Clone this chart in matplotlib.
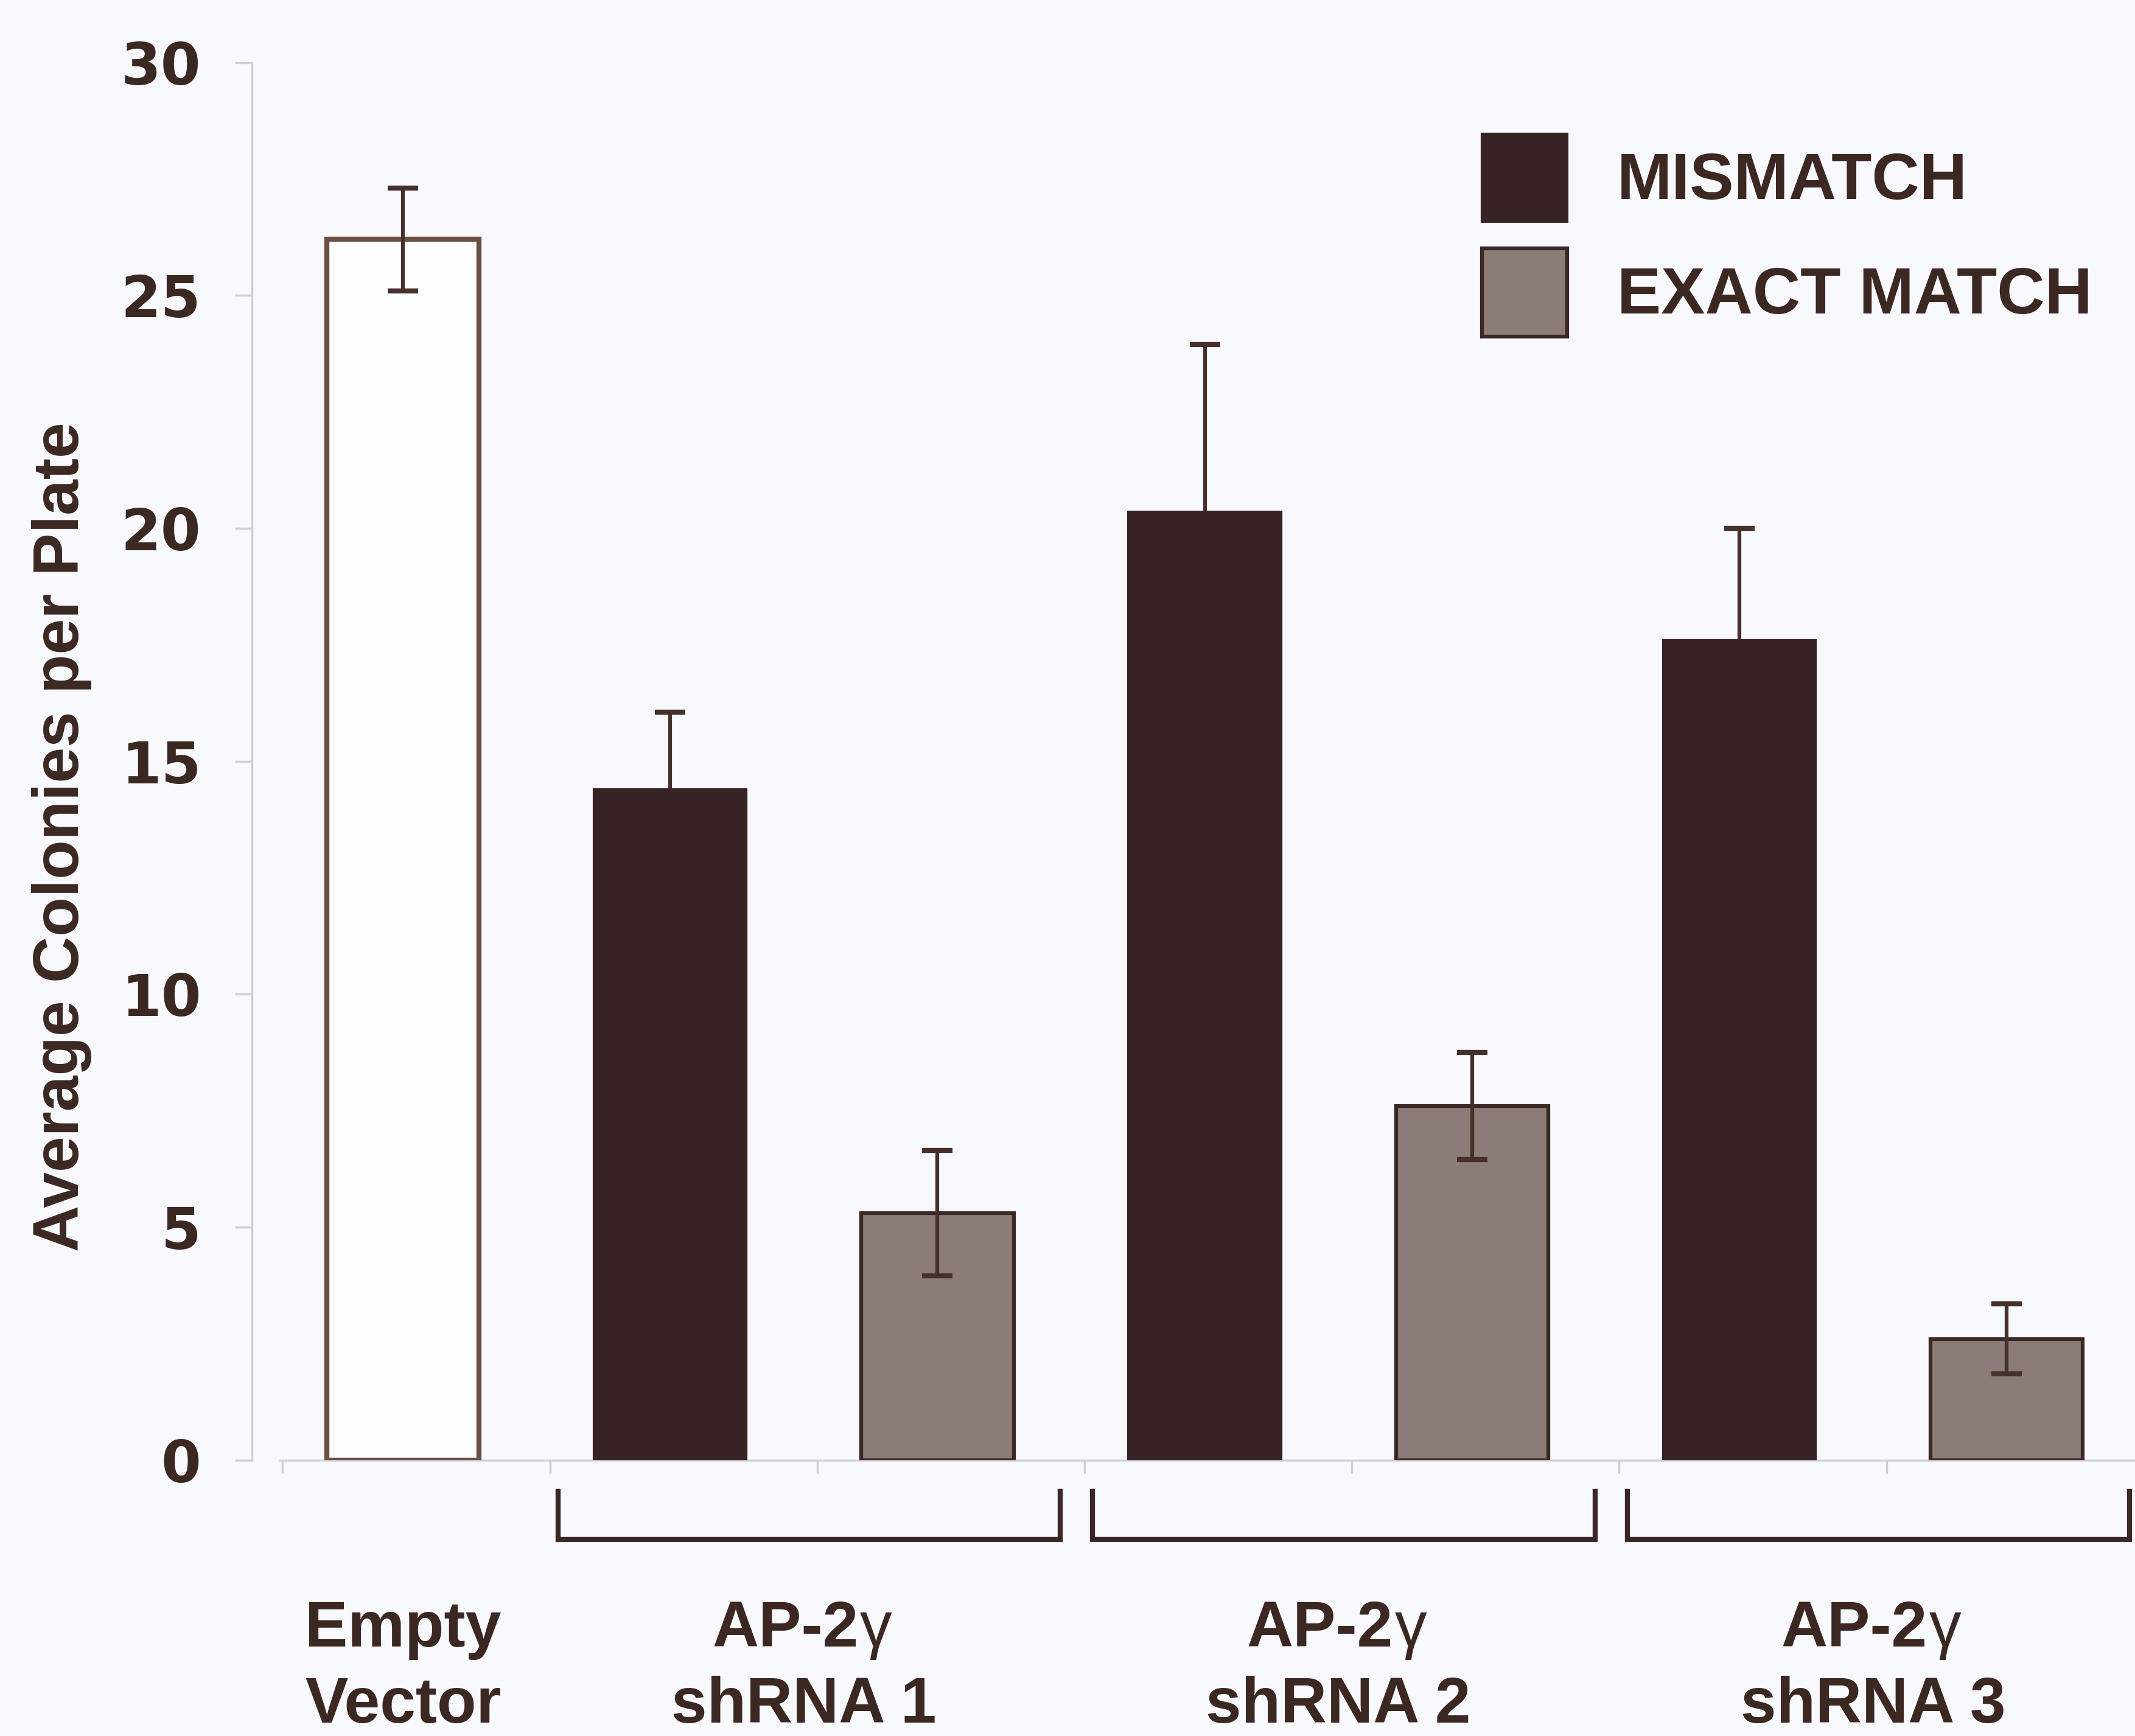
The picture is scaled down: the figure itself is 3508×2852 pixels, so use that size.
import matplotlib
matplotlib.use("Agg")
import matplotlib.pyplot as plt
import numpy as np
from matplotlib.patches import Patch

# ---- data ----
categories = ["Empty\nVector", "AP-2γ\nshRNA 1", "AP-2γ\nshRNA 2", "AP-2γ\nshRNA 3"]
empty_value = [26.2]
empty_err = [1.1]
mismatch_values = [14.4, 20.35, 17.6]
mismatch_err = [1.65, 3.6, 2.4]
exact_values = [5.3, 7.6, 2.6]
exact_err = [1.35, 1.15, 0.75]
series_labels = ["MISMATCH", "EXACT MATCH"]
yticks = [0, 5, 10, 15, 20, 25, 30]

# ---- style ----
BG = "#f8f9fc"
TXT = "#3b2823"
DARK = "#382324"
GREY = "#8b7c77"
EDGE = "#3a2824"
EMPTY_EDGE = "#6a4f43"
AXIS = "#cfcfd8"
FONT = "Liberation Sans"
FS = 76

fig = plt.figure(figsize=(35.08, 28.52), dpi=100, facecolor=BG)
ax = fig.add_axes([0.118, 0.159, 0.882, 0.805], facecolor=BG)

n_groups = len(mismatch_values)
pos_empty = np.array([0.0])
pos_mis = np.array([1 + 2 * i for i in range(n_groups)], dtype=float)
pos_exa = pos_mis + 1
w = 0.57

ax.bar(pos_empty, empty_value, width=w, color="#fbfcfe", edgecolor=EMPTY_EDGE,
       linewidth=6, zorder=3)
ax.bar(pos_mis, mismatch_values, width=w, color=DARK, edgecolor=DARK,
       linewidth=3, zorder=3)
ax.bar(pos_exa, exact_values, width=w, color=GREY, edgecolor=EDGE,
       linewidth=4.5, zorder=3)

eb_kw = dict(fmt="none", ecolor="#45302b", elinewidth=4.5, capsize=18,
             capthick=6)
ax.errorbar(pos_empty, empty_value, yerr=empty_err, zorder=4, **eb_kw)
# mismatch whiskers sit behind the bars: only the upper part shows
ax.errorbar(pos_mis, mismatch_values, yerr=mismatch_err, zorder=2, **eb_kw)
ax.errorbar(pos_exa, exact_values, yerr=exact_err, zorder=4, **eb_kw)

ax.set_xlim(-0.565, 6.48)
ax.set_ylim(0, 30)

for s in ["top", "right"]:
    ax.spines[s].set_visible(False)
ax.spines["left"].set_color(AXIS)
ax.spines["left"].set_linewidth(2.5)
ax.spines["bottom"].set_color(AXIS)
ax.spines["bottom"].set_linewidth(2.5)
ax.spines["bottom"].set_bounds(-0.46, 6.48)

ax.set_yticks(yticks)
ax.set_yticklabels([str(t) for t in yticks], fontfamily="DejaVu Sans",
                   fontweight="bold", fontsize=68, color=TXT)
ax.tick_params(axis="y", length=20, width=2.5, color=AXIS, pad=40)
xt = [i - 0.45 for i in range(7)]
ax.set_xticks(xt)
ax.set_xticklabels([""] * len(xt))
ax.tick_params(axis="x", length=16, width=2.5, color=AXIS)

# brackets
y_top, y_bot = -0.67, -1.70
for p in pos_mis:
    c = p + 0.5 + 0.02
    x0, x1 = c - 0.94, c + 0.94
    ax.plot([x0, x0, x1, x1], [y_top, y_bot, y_bot, y_top], color=EDGE,
            lw=6, clip_on=False, solid_joinstyle="miter", zorder=5)

# category labels (two lines, gamma drawn in regular weight)
label_pos = [pos_empty[0]] + [p + 0.5 for p in pos_mis]
y_line1, y_line2 = -3.65, -5.28
txt_kw = dict(fontsize=FS, fontfamily=FONT, fontweight="bold", color=TXT,
              clip_on=False)
for xp, lab in zip(label_pos, categories):
    l1, l2 = lab.split("\n")
    if "γ" in l1:
        base = l1.replace("γ", "")
        t1 = ax.text(xp - 0.07, y_line1, base, ha="center", va="center", **txt_kw)
        ax.annotate("γ", xy=(1, 0), xycoords=t1, xytext=(2, 0),
                    textcoords="offset points", ha="left", va="bottom",
                    fontsize=FS, fontfamily=FONT, fontweight="normal",
                    color=TXT, annotation_clip=False)
    else:
        ax.text(xp, y_line1, l1, ha="center", va="center", **txt_kw)
    ax.text(xp, y_line2, l2, ha="center", va="center", **txt_kw)

# y label
fig.text(0.029, 0.518, "Average Colonies per Plate", rotation=90,
         ha="center", va="center", fontsize=FS, fontfamily=FONT,
         fontweight="bold", color=TXT)

# legend
handles = [Patch(facecolor=DARK, edgecolor=DARK, linewidth=3),
           Patch(facecolor=GREY, edgecolor=EDGE, linewidth=4.5)]
leg = fig.legend(handles, series_labels, loc="upper left",
                 bbox_to_anchor=(0.694, 0.923), frameon=False,
                 prop={"family": FONT, "weight": "bold", "size": 78},
                 handlelength=1.3, handleheight=1.68, handletextpad=0.75,
                 labelspacing=0.4, borderpad=0, borderaxespad=0)
for t in leg.get_texts():
    t.set_color(TXT)

fig.savefig("out.png", dpi=100, facecolor=BG)
